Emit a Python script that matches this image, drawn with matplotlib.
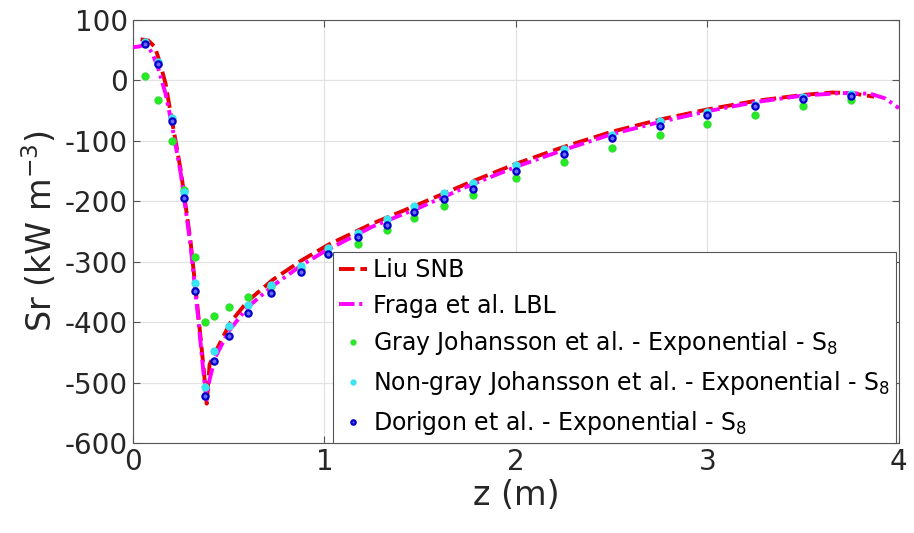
import numpy as np
import matplotlib
matplotlib.use('Agg')
import matplotlib.pyplot as plt

plt.rcParams['axes.unicode_minus'] = False

# Liu SNB (red dashed)
z_liu = [0.04, 0.08, 0.115, 0.14, 0.17, 0.20, 0.25, 0.30, 0.34, 0.37, 0.385,
         0.40, 0.43, 0.47, 0.51, 0.60, 0.73, 0.88, 1.02, 1.25, 1.5, 1.75,
         2.0, 2.25, 2.5, 2.75, 3.0, 3.25, 3.5, 3.65, 3.75, 3.87]
sr_liu = [68, 66, 55, 30, -5, -60, -150, -265, -385, -480, -535,
          -470, -450, -425, -400, -365, -330, -298, -272, -237, -204, -170,
          -138, -110, -85, -65, -48, -34, -24, -20, -21, -27]

# Fraga et al. LBL (magenta dash-dot)
z_fraga = [0.0, 0.03, 0.05, 0.07, 0.10, 0.13, 0.17, 0.20, 0.25, 0.30, 0.34,
           0.37, 0.385, 0.40, 0.43, 0.50, 0.60, 0.73, 0.88, 1.0, 1.25, 1.5,
           1.75, 2.0, 2.25, 2.5, 2.75, 3.0, 3.25, 3.5, 3.7, 3.85, 3.93, 4.0]
sr_fraga = [55, 56, 58, 60, 45, 22, -22, -68, -155, -272, -392,
            -490, -528, -495, -458, -415, -375, -340, -306, -283, -242, -210,
            -175, -143, -115, -89, -69, -51, -36, -25, -21, -22, -30, -46]

# discrete-ordinates results
z_pts = [0.063, 0.13, 0.204, 0.266, 0.324, 0.376, 0.423, 0.501, 0.60, 0.72,
         0.877, 1.02, 1.175, 1.326, 1.47, 1.625, 1.775, 2.0, 2.25, 2.5,
         2.75, 3.0, 3.25, 3.5, 3.75]
sr_gray = [7, -32, -100, -182, -292, -400, -390, -375, -358, -340,
           -312, -287, -270, -248, -228, -208, -190, -162, -135, -112,
           -90, -72, -57, -43, -33]
sr_nongray = [64, 30, -62, -185, -335, -507, -448, -407, -372, -338,
              -307, -278, -252, -230, -208, -187, -170, -140, -113, -90,
              -68, -53, -40, -28, -23]
sr_dorigon = [60, 27, -67, -195, -348, -523, -465, -423, -385, -352,
              -317, -288, -260, -240, -218, -197, -180, -150, -122, -95,
              -75, -57, -42, -30, -25]

xticks = [0, 1, 2, 3, 4]
yticks = [100, 0, -100, -200, -300, -400, -500, -600]

fig = plt.figure(figsize=(9.14, 5.33), dpi=100)
ax = fig.add_axes([0.1455, 0.169, 0.838, 0.7935])

ax.plot(z_liu, sr_liu, '--', color='#e60000', lw=2.8, dashes=(4, 1.5),
        label='Liu SNB', zorder=3)
ax.plot(z_fraga, sr_fraga, '-.', color='#ff00ff', lw=2.8,
        dashes=(4, 1.2, 0.8, 1.2), label='Fraga et al. LBL', zorder=4)
ax.plot(z_pts, sr_gray, 'o', ls='none', ms=5, color='#22ee22', mec='#33dd33',
        label='Gray Johansson et al. - Exponential - S$_8$', zorder=5)
ax.plot(z_pts, sr_nongray, 'o', ls='none', ms=5, color='#33e8f0', mec='#40e0f0',
        label='Non-gray Johansson et al. - Exponential - S$_8$', zorder=6)
ax.plot(z_pts, sr_dorigon, 'o', ls='none', ms=4.5, mfc='#6a6aff', mec='#0000c8',
        mew=1.6, label='Dorigon et al. - Exponential - S$_8$', zorder=7)

ax.set_xlim(0, 4)
ax.set_ylim(-600, 100)
ax.set_xticks(xticks)
ax.set_yticks(yticks)
ax.grid(True, color='#e3e3e3', lw=0.9)
ax.set_axisbelow(True)
ax.tick_params(direction='in', top=True, right=True, labelsize=20,
               labelcolor='#262626', color='#555555', length=5)
for s in ax.spines.values():
    s.set_color('#555555')
    s.set_linewidth(0.8)

ax.set_xlabel('z (m)', fontsize=24, color='#262626', labelpad=2)
ax.set_ylabel('Sr (kW m$^{-3}$)', fontsize=24, color='#262626', labelpad=4)

leg = ax.legend(loc='lower left', bbox_to_anchor=(0.261, 0.0), fontsize=17,
                handlelength=1.2, handletextpad=0.25, labelspacing=0.5,
                borderpad=0.25, borderaxespad=0.0, fancybox=False,
                framealpha=1, edgecolor='#555555', markerscale=0.7)
leg.get_frame().set_linewidth(0.8)

fig.savefig('out.png', dpi=100)
